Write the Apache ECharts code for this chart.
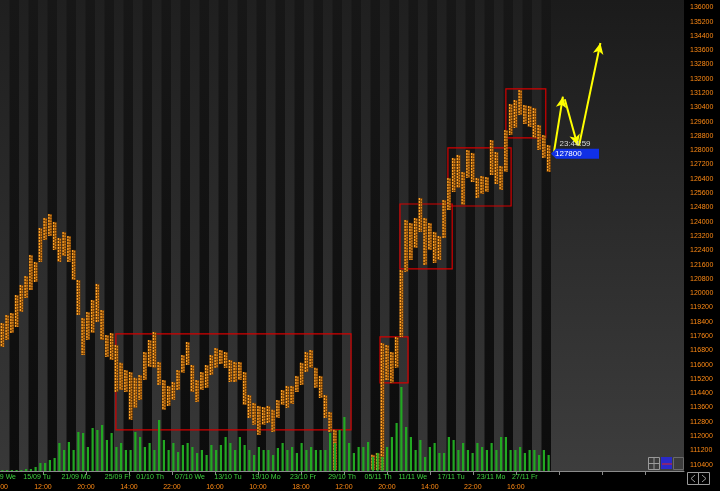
<!DOCTYPE html>
<html><head><meta charset="utf-8">
<script src="https://cdn.jsdelivr.net/npm/echarts@6/dist/echarts.min.js"></script>
<style>html,body{margin:0;padding:0;background:#000;}#c{width:720px;height:491px;}</style>
</head><body><div id="c"></div>
<script>
// ---------- data ----------
const slotCount = 144;          // time slots on the x axis (incl. empty future space)
const futureStart = 116;        // first slot without data
const priceHigh = [118330,118780,118890,119900,120460,120960,122140,121750,123650,124210,
124430,123990,123090,123430,123200,122420,120740,118610,118950,119620,
120520,119060,117660,117770,117100,116100,115700,115590,115260,115420,
116710,117380,117830,116150,115140,114810,115030,115700,116540,117270,
115980,115140,115590,115980,116540,116930,116820,116710,116260,116150,
116150,115590,114300,113860,113690,113630,113690,113470,114020,114580,
114810,114810,115370,116100,116710,116820,115820,115370,114300,113350,
112350,null,null,null,null,null,null,null,110950,111060,
117210,117100,116710,117550,121300,124100,123930,124210,125330,124210,
123930,123430,123200,125220,126450,127570,127740,126780,128020,127850,
126450,126560,126500,128570,127900,127120,129130,130590,130810,131370,
130530,130480,130370,129410,128850,128290];
const priceLow = [116990,117380,117770,118110,118950,119730,120180,120630,121750,122980,
123200,122420,121750,122080,121750,120740,118780,116540,117380,117770,
118390,117380,116430,116260,114470,114580,114470,112910,113580,114020,
115140,115870,115820,114860,113470,113690,114020,114580,115540,115980,
114470,113910,114580,114700,115420,115820,116040,115820,115030,115030,
115140,113740,113020,112630,112070,112630,112740,112230,113020,113740,
113580,113800,114470,114860,115590,115820,114700,114140,113020,112230,
110110,null,null,null,null,null,null,null,110110,110110,
110110,115140,114980,115820,117550,121190,121860,122530,123430,121580,
122420,121690,121860,123090,124660,125660,125890,124940,126450,126220,
125330,125550,125660,126620,126110,125780,126780,128850,129250,129970,
129470,129300,128690,128020,127570,126780];
const volume = [1,1,1,1,1,2,2,4,8,8,
11,13,28,21,29,21,39,38,24,43,
41,46,31,38,24,28,21,21,39,34,
24,28,21,51,31,21,28,19,26,28,
24,18,21,16,26,21,26,34,28,21,
34,26,21,16,24,21,21,16,23,28,
21,24,18,28,21,24,21,21,21,38,
28,41,54,28,18,24,24,29,14,18,
14,24,34,48,84,44,34,21,31,14,
24,28,18,18,34,31,21,28,21,18,
28,24,21,28,21,34,34,21,21,24,
18,21,21,16,21,16];
const dateLabels = ['15/09 Tu','21/09 Mo','25/09 Fr','01/10 Th','07/10 We','13/10 Tu','19/10 Mo','23/10 Fr','29/10 Th','05/11 Th','11/11 We','17/11 Tu','23/11 Mo','27/11 Fr'];
const dateSlots  = [7.8,16.0,24.8,31.6,40.0,48.0,56.0,63.8,72.0,79.6,86.9,95.0,103.4,110.5];
const timeLabels = ['12:00','20:00','14:00','22:00','16:00','10:00','18:00','12:00','20:00','14:00','22:00','16:00'];
const timeStep = 9.05;          // slots between time ticks
const timeTickCount = 15;
const sessionStarts = [0,4,8,12,16,20,24,28,32,36,40,44,48,52,56,60,64,68,72,76,80,84,88,92,96,100,104,108,112];
const sessionLen = 2;
// annotation boxes: [slotFrom, priceTop, slotTo, priceBottom]
const boxes = [[24.4,117720,73.9,112350],[80.0,117550,85.9,114980],[84.2,124990,95.2,121360],[94.3,128130,107.6,124880],[106.5,131430,114.9,128690]];
// yellow arrows: [[slot, price] from, [slot, price] to]
const arrows = [[[116.6,127850],[118.5,131000]],[[118.9,130850],[121.6,128260]],[[121.9,128260],[126.4,134000]]];
const lastPrice = 127800;
const lastTime = '23:44:59';

// ---------- chart ----------
const chart = echarts.init(document.getElementById('c'), null, {renderer:'canvas'});
const G = echarts.graphic;
const orange = '#ff8a14';
const green = '#3fd43f';
const font = 'Liberation Sans, Arial, sans-serif';

const timeTicks = [];
for (let k = 1; k <= timeTickCount; k++) timeTicks.push(+(k*timeStep).toFixed(4));
const timeLabelVals = timeTicks.slice(0, timeLabels.length);

const priceData = [];
priceHigh.forEach((h, i) => { if (h != null) priceData.push([i + 0.5, priceLow[i], h]); });
const volData = volume.map((v, i) => [i + 0.5, v]);

const stripeAreas = sessionStarts.map(s => [{xAxis: s, itemStyle:{color: new G.LinearGradient(0,0,0,1,[{offset:0,color:'#1f1f1f'},{offset:1,color:'#383838'}])}}, {xAxis: s + sessionLen}]);
stripeAreas.push([{xAxis: futureStart, itemStyle:{color: new G.LinearGradient(0,0,0,1,[{offset:0,color:'#1b1b1b'},{offset:1,color:'#3d3d3d'}])}}, {xAxis: slotCount}]);

function renderPrice(params, api) {
  const lo = api.coord([api.value(0), api.value(1)]);
  const hi = api.coord([api.value(0), api.value(2)]);
  const h = Math.max(1, lo[1] - hi[1]);
  return {type:'group', children:[
    {type:'rect', shape:{x: lo[0]-2, y: hi[1], width: 4, height: h}, style:{fill:'#7a4408'}},
    {type:'line', shape:{x1: lo[0]-1, y1: hi[1], x2: lo[0]-1, y2: hi[1]+h}, style:{stroke:'#ffa326', lineWidth:1.3, lineDash:[2,1]}},
    {type:'line', shape:{x1: lo[0]+1, y1: hi[1]+1, x2: lo[0]+1, y2: hi[1]+h}, style:{stroke:'#e0861a', lineWidth:1.3, lineDash:[1.5,1.2]}}
  ]};
}

chart.setOption({
  backgroundColor: '#000',
  animation: false,
  grid: [
    {left:0, right:36, top:0, bottom:20, show:true, borderWidth:0,
     backgroundColor: new G.LinearGradient(0,0,0,1,[{offset:0,color:'#171717'},{offset:1,color:'#0c0c0c'}])},
    {left:0, right:36, top:7.3, bottom:26.3}
  ],
  xAxis: [
    {gridIndex:0, type:'value', min:0, max:slotCount, position:'bottom',
     axisLine:{show:true, lineStyle:{color:'#8a8a8a', width:1}},
     axisTick:{show:true, customValues: timeTicks, length:4, lineStyle:{color:'#8a8a8a'}},
     axisLabel:{show:true, customValues: dateSlots, margin:3, color:green, fontSize:7, fontFamily:font,
       formatter: v => { const i = dateSlots.findIndex(d => Math.abs(d - v) < 1e-6); return i >= 0 ? dateLabels[i] : ''; }},
     splitLine:{show:false}},
    {gridIndex:0, type:'value', min:0, max:slotCount, position:'bottom',
     axisLine:{show:false}, axisTick:{show:false},
     axisLabel:{show:true, customValues: timeLabelVals, margin:13, color:orange, fontSize:7, fontFamily:font,
       formatter: v => { const i = timeLabelVals.findIndex(d => Math.abs(d - v) < 1e-6); return i >= 0 ? timeLabels[i] : ''; }},
     splitLine:{show:false}},
    {gridIndex:1, type:'value', min:0, max:slotCount, show:false, splitLine:{show:false}}
  ],
  yAxis: [
    {gridIndex:0, type:'value', min:0, max:471, position:'right',
     axisLine:{show:true, lineStyle:{color:'#8a8a8a'}}, axisTick:{show:false}, axisLabel:{show:false}, splitLine:{show:false}},
    {gridIndex:1, type:'value', min:110400, max:136000, interval:800, position:'right',
     axisLine:{show:false}, axisTick:{show:true, length:3, lineStyle:{color:'#8a8a8a'}},
     axisLabel:{show:true, color:orange, fontSize:7, fontFamily:font, margin:6, formatter: v => String(v)}, splitLine:{show:false}}
  ],
  series: [
    {type:'line', xAxisIndex:0, yAxisIndex:0, data:[], silent:true, z:0,
     markArea:{silent:true, data: stripeAreas}},
    {type:'bar', xAxisIndex:0, yAxisIndex:0, data: volData, barWidth:2.2, silent:true,
     itemStyle:{color:'#22a822'}},
    {type:'custom', xAxisIndex:2, yAxisIndex:1, data: priceData, renderItem: renderPrice, silent:true, clip:false},
    {type:'line', xAxisIndex:2, yAxisIndex:1, data: priceData.map(d => [d[0], d[2]]), showSymbol:false,
     lineStyle:{opacity:0}, silent:true, z:3,
     markArea:{silent:true, itemStyle:{color:'rgba(0,0,0,0)', borderColor:'#d40000', borderWidth:1.2},
       data: boxes.map(b => [{coord:[b[0], b[1]]}, {coord:[b[2], b[3]]}])},
     markLine:{silent:true, symbol:['none','arrow'], symbolSize:[8,11], label:{show:false},
       lineStyle:{color:'#ffff00', width:2, type:'solid'},
       data: arrows.map(a => [{coord:a[0]}, {coord:a[1]}])},
     markPoint:{silent:true, data:[
       {coord:[futureStart, lastPrice], symbol:'path://M0,5L5,0L48,0L48,10L5,10Z', symbolSize:[48,10], symbolOffset:[24,0],
        itemStyle:{color:'#1030e6'}, label:{show:true, position:'insideLeft', distance:4, formatter: String(lastPrice), color:'#fff', fontSize:8, fontFamily:font}},
       {coord:[futureStart, lastPrice], symbol:'rect', symbolSize:[1,1], symbolOffset:[24,-10],
        itemStyle:{color:'rgba(0,0,0,0)'}, label:{show:true, position:'inside', formatter: lastTime, color:'#d8d8d8', fontSize:8, fontFamily:font}}
     ]}}
  ],
  graphic: [
    {type:'text', z:100, x:16, y:477, style:{text:'09/09 We', fill:green, font:'7px '+font, textAlign:'right', textVerticalAlign:'middle'}},
    {type:'text', z:100, x:8, y:487, style:{text:'20:00', fill:orange, font:'7px '+font, textAlign:'right', textVerticalAlign:'middle'}},
    {type:'rect', z:100, shape:{x:648.5, y:457.5, width:11, height:12}, style:{fill:'none', stroke:'#9a9a9a', lineWidth:1}},
    {type:'line', z:100, shape:{x1:654, y1:457.5, x2:654, y2:469.5}, style:{stroke:'#9a9a9a'}},
    {type:'line', z:100, shape:{x1:648.5, y1:463.5, x2:659.5, y2:463.5}, style:{stroke:'#9a9a9a'}},
    {type:'rect', z:100, shape:{x:661, y:457, width:11, height:12}, style:{fill:'#2a2ac8'}},
    {type:'line', z:100, shape:{x1:662, y1:464, x2:672, y2:464}, style:{stroke:'#e02020', lineWidth:1}},
    {type:'rect', z:100, shape:{x:673.5, y:457.5, width:10, height:12}, style:{fill:'none', stroke:'#6a6a6a', lineWidth:1}},
    {type:'rect', z:100, shape:{x:687.5, y:472.5, width:11, height:12}, style:{fill:'none', stroke:'#9a9a9a', lineWidth:1}},
    {type:'rect', z:100, shape:{x:698.5, y:472.5, width:11, height:12}, style:{fill:'none', stroke:'#9a9a9a', lineWidth:1}},
    {type:'polyline', z:100, shape:{points:[[695,475],[691,478.5],[695,482]]}, style:{fill:'none', stroke:'#9a9a9a'}},
    {type:'polyline', z:100, shape:{points:[[702,475],[706,478.5],[702,482]]}, style:{fill:'none', stroke:'#9a9a9a'}}
  ]
});
</script></body></html>
